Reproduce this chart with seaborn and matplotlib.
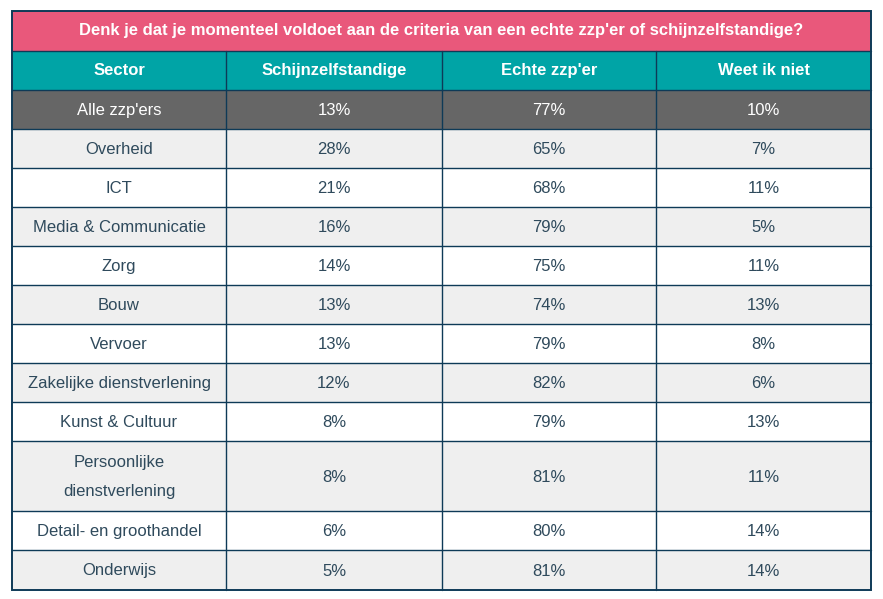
import matplotlib
matplotlib.use("Agg")
import matplotlib.pyplot as plt
import matplotlib.patches as mpatches
import seaborn as sns
import numpy as np

title = "Denk je dat je momenteel voldoet aan de criteria van een echte zzp'er of schijnzelfstandige?"
columns = ["Sector", "Schijnzelfstandige", "Echte zzp'er", "Weet ik niet"]
sectors = ["Alle zzp'ers", "Overheid", "ICT", "Media & Communicatie", "Zorg", "Bouw",
           "Vervoer", "Zakelijke dienstverlening", "Kunst & Cultuur",
           "Persoonlijke\ndienstverlening", "Detail- en groothandel", "Onderwijs"]
schijn = [13, 28, 21, 16, 14, 13, 13, 12, 8, 8, 6, 5]
echt = [77, 65, 68, 79, 75, 74, 79, 82, 79, 81, 80, 81]
weet_niet = [10, 7, 11, 5, 11, 13, 8, 6, 13, 11, 14, 14]

sns.set_theme(style="white")
plt.rcParams['font.family'] = ['Liberation Sans', 'DejaVu Sans']

PINK = "#e9587b"
TEAL = "#00a4a6"
GREY = "#666666"
STRIPE = "#efefef"
BORDER = "#0e3a57"
TEXT = "#2f4a5c"

fig = plt.figure(figsize=(8.83, 5.99), dpi=100)
ax = fig.add_axes([0, 0, 1, 1])
ax.set_xlim(0, 883)
ax.set_ylim(599, 0)
ax.axis("off")

col_x = [12, 226, 442, 656, 871]
top = 11
row_h = [40, 39] + [39] * 9 + [70, 39, 40]  # title, header, data rows
y_edges = np.concatenate([[top], top + np.cumsum(row_h)])

# title row
ax.add_patch(mpatches.Rectangle((col_x[0], y_edges[0]), col_x[-1] - col_x[0], row_h[0],
                                facecolor=PINK, edgecolor="none"))
ax.text((col_x[0] + col_x[-1]) / 2, (y_edges[0] + y_edges[1]) / 2, title,
        ha="center", va="center", color="white", fontsize=12, fontweight="bold")

# header row
ax.add_patch(mpatches.Rectangle((col_x[0], y_edges[1]), col_x[-1] - col_x[0], row_h[1],
                                facecolor=TEAL, edgecolor="none"))
for j, name in enumerate(columns):
    ax.text((col_x[j] + col_x[j + 1]) / 2, (y_edges[1] + y_edges[2]) / 2, name,
            ha="center", va="center", color="white", fontsize=12, fontweight="bold")

# data rows
for i, sector in enumerate(sectors):
    y0, y1 = y_edges[i + 2], y_edges[i + 3]
    if i == 0:
        bg, fg = GREY, "white"
    else:
        bg, fg = (STRIPE if i % 2 == 1 else "white"), TEXT
    ax.add_patch(mpatches.Rectangle((col_x[0], y0), col_x[-1] - col_x[0], y1 - y0,
                                    facecolor=bg, edgecolor="none"))
    values = [sector, f"{schijn[i]}%", f"{echt[i]}%", f"{weet_niet[i]}%"]
    for j, val in enumerate(values):
        ax.text((col_x[j] + col_x[j + 1]) / 2, (y0 + y1) / 2 + 1, val,
                ha="center", va="center", color=fg, fontsize=12, linespacing=2.15)

# grid lines
for y in y_edges[1:-1]:
    ax.plot([col_x[0], col_x[-1]], [y, y], color=BORDER, lw=1)
for x in col_x[1:-1]:
    ax.plot([x, x], [y_edges[1], y_edges[-1]], color=BORDER, lw=1)
ax.add_patch(mpatches.Rectangle((col_x[0], top), col_x[-1] - col_x[0], y_edges[-1] - top,
                                facecolor="none", edgecolor=BORDER, lw=1.4))

fig.savefig("out.png", dpi=100)
